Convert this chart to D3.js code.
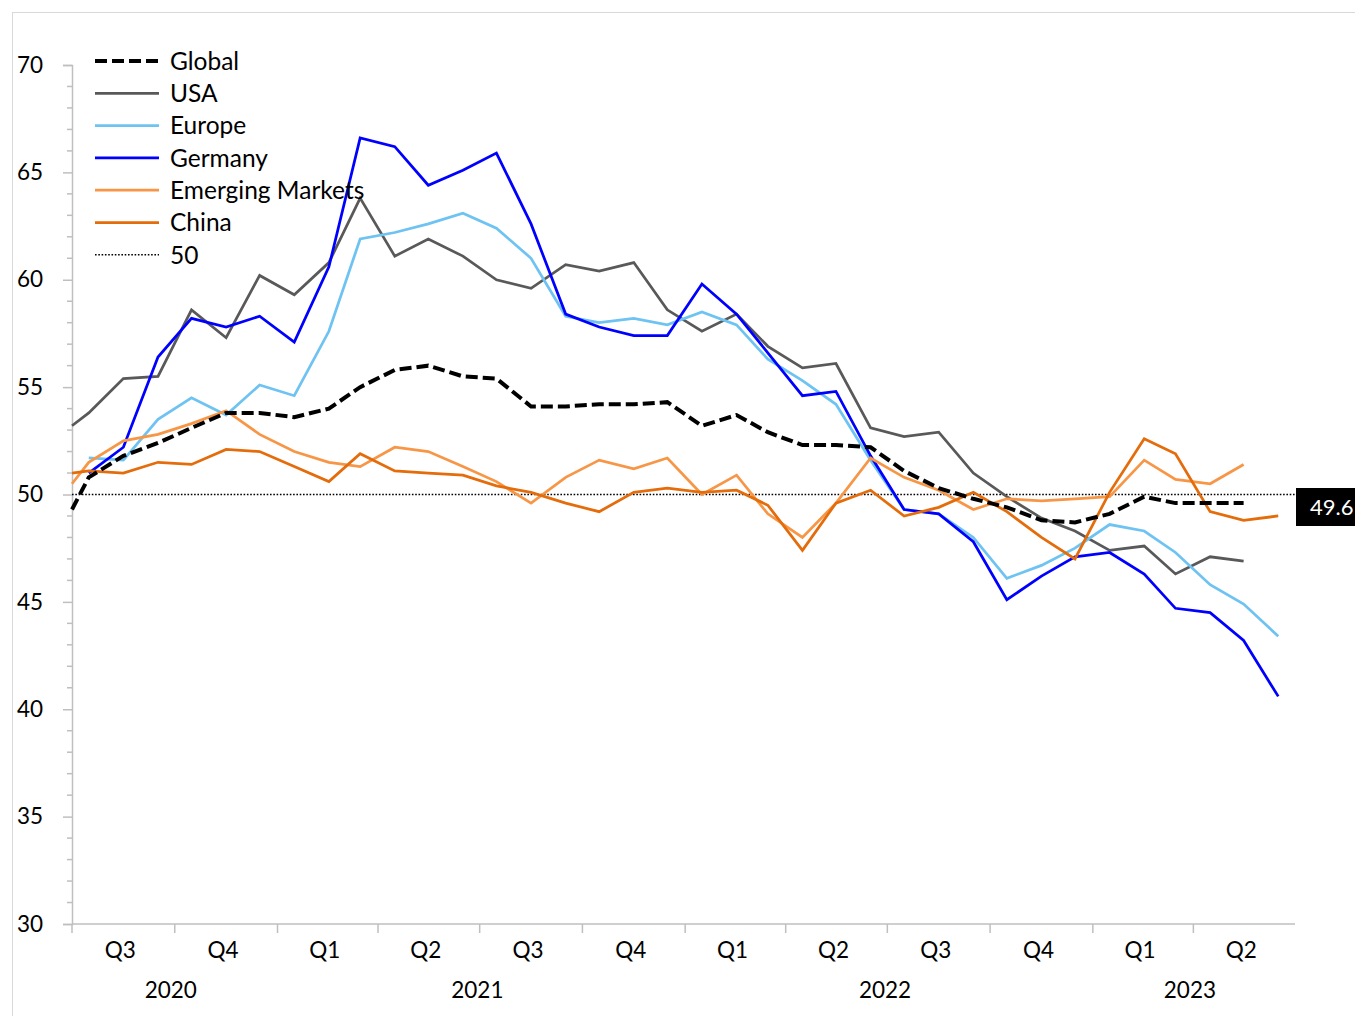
<!DOCTYPE html>
<html>
<head>
<meta charset="utf-8">
<script src="https://cdn.jsdelivr.net/npm/d3@7"></script>
<style>
  body { margin: 0; background: #fff; }
  text { font-family: Lato, "Open Sans", sans-serif; fill: #000; }
</style>
</head>
<body>
<div id="chart"></div>
<script>
// monthly readings (first point is 1 Jul 2020, then mid-month)
var dates = ["2020-07-01",
  "2020-07-16", "2020-08-16", "2020-09-16", "2020-10-16", "2020-11-16", "2020-12-16",
  "2021-01-16", "2021-02-16", "2021-03-16", "2021-04-16", "2021-05-16", "2021-06-16",
  "2021-07-16", "2021-08-16", "2021-09-16", "2021-10-16", "2021-11-16", "2021-12-16",
  "2022-01-16", "2022-02-16", "2022-03-16", "2022-04-16", "2022-05-16", "2022-06-16",
  "2022-07-16", "2022-08-16", "2022-09-16", "2022-10-16", "2022-11-16", "2022-12-16",
  "2023-01-16", "2023-02-16", "2023-03-16", "2023-04-16", "2023-05-16", "2023-06-16"];

var globalPmi = [49.3,
  50.8, 51.8, 52.4, 53.1, 53.8, 53.8,
  53.6, 54.0, 55.0, 55.8, 56.0, 55.5,
  55.4, 54.1, 54.1, 54.2, 54.2, 54.3,
  53.2, 53.7, 52.9, 52.3, 52.3, 52.2,
  51.1, 50.3, 49.8, 49.4, 48.8, 48.7,
  49.1, 49.9, 49.6, 49.6, 49.6, null];

var usa = [53.2,
  53.8, 55.4, 55.5, 58.6, 57.3, 60.2,
  59.3, 60.8, 63.8, 61.1, 61.9, 61.1,
  60.0, 59.6, 60.7, 60.4, 60.8, 58.6,
  57.6, 58.4, 56.9, 55.9, 56.1, 53.1,
  52.7, 52.9, 51.0, 49.9, 48.9, 48.3,
  47.4, 47.6, 46.3, 47.1, 46.9, null];

var europe = [null,
  51.7, 51.6, 53.5, 54.5, 53.7, 55.1,
  54.6, 57.6, 61.9, 62.2, 62.6, 63.1,
  62.4, 61.0, 58.3, 58.0, 58.2, 57.9,
  58.5, 57.9, 56.3, 55.3, 54.2, 51.6,
  49.3, 49.1, 48.0, 46.1, 46.7, 47.5,
  48.6, 48.3, 47.3, 45.8, 44.9, 43.4];

var germany = [null,
  51.0, 52.2, 56.4, 58.2, 57.8, 58.3,
  57.1, 60.6, 66.6, 66.2, 64.4, 65.1,
  65.9, 62.6, 58.4, 57.8, 57.4, 57.4,
  59.8, 58.4, 56.6, 54.6, 54.8, 51.8,
  49.3, 49.1, 47.8, 45.1, 46.2, 47.1,
  47.3, 46.3, 44.7, 44.5, 43.2, 40.6];

var emerging = [50.5,
  51.5, 52.5, 52.8, 53.3, 53.9, 52.8,
  52.0, 51.5, 51.3, 52.2, 52.0, 51.3,
  50.6, 49.6, 50.8, 51.6, 51.2, 51.7,
  50.0, 50.9, 49.1, 48.0, 49.6, 51.7,
  50.8, 50.2, 49.3, 49.8, 49.7, 49.8,
  49.9, 51.6, 50.7, 50.5, 51.4, null];

var china = [51.0,
  51.1, 51.0, 51.5, 51.4, 52.1, 52.0,
  51.3, 50.6, 51.9, 51.1, 51.0, 50.9,
  50.4, 50.1, 49.6, 49.2, 50.1, 50.3,
  50.1, 50.2, 49.5, 47.4, 49.6, 50.2,
  49.0, 49.4, 50.1, 49.2, 48.0, 47.0,
  50.1, 52.6, 51.9, 49.2, 48.8, 49.0];

var quarterStarts = ["2020-07-01", "2020-10-01", "2021-01-01", "2021-04-01", "2021-07-01",
  "2021-10-01", "2022-01-01", "2022-04-01", "2022-07-01", "2022-10-01", "2023-01-01",
  "2023-04-01", "2023-07-01"];
var quarterLabels = ["Q3", "Q4", "Q1", "Q2", "Q3", "Q4", "Q1", "Q2", "Q3", "Q4", "Q1", "Q2"];
var years = ["2020", "2021", "2022", "2023"];
var yearSpans = [[0, 2], [2, 6], [6, 10], [10, 12]];   // quarter index ranges
var yTicks = [30, 35, 40, 45, 50, 55, 60, 65, 70];
var lastLabel = "49.6";

var svgWidth = 1355;
var svgHeight = 1016;

var margin = { top: 65, right: 60, bottom: 92, left: 72 };
var width = svgWidth - margin.left - margin.right;
var height = svgHeight - margin.top - margin.bottom;

var parse = d3.timeParse("%Y-%m-%d");
var dateObjs = dates.map(parse);

var series = [
  { name: "Global", values: globalPmi, color: "#000000", width: 4, dash: "12,5" },
  { name: "USA", values: usa, color: "#595959", width: 2.75, dash: null },
  { name: "Europe", values: europe, color: "#6EC3F2", width: 2.75, dash: null },
  { name: "Germany", values: germany, color: "#0000FF", width: 2.75, dash: null },
  { name: "Emerging Markets", values: emerging, color: "#F79646", width: 2.75, dash: null },
  { name: "China", values: china, color: "#E46C0A", width: 2.75, dash: null }
];

var svg = d3.select("#chart")
  .append("svg")
  .attr("width", svgWidth)
  .attr("height", svgHeight);

// chart area border
svg.append("rect")
  .attr("x", 12.5).attr("y", 12.5)
  .attr("width", 1400).attr("height", 1100)
  .attr("fill", "none")
  .attr("stroke", "#d9d9d9");

var chartGroup = svg.append("g")
  .attr("transform", `translate(${margin.left}, ${margin.top})`);

var xScale = d3.scaleTime()
  .domain([parse(quarterStarts[0]), parse(quarterStarts[quarterStarts.length - 1])])
  .range([0, width]);

var yScale = d3.scaleLinear()
  .domain([30, 70])
  .range([height, 0]);

// y axis with major + minor ticks
var leftAxis = d3.axisLeft(yScale).tickValues(yTicks).tickSize(9).tickPadding(20);
var yAxis = chartGroup.append("g").call(leftAxis);
yAxis.select(".domain").attr("stroke", "#bfbfbf").attr("stroke-width", 1.5);
yAxis.selectAll(".tick line").attr("stroke", "#bfbfbf").attr("stroke-width", 1.5);
yAxis.selectAll(".tick text")
  .style("font-family", "Lato, sans-serif")
  .style("font-size", "22.5px")
  .attr("fill", "#000");

chartGroup.append("g")
  .selectAll("line")
  .data(d3.range(30, 71).filter(d => d % 5 !== 0))
  .enter()
  .append("line")
  .attr("x1", -5).attr("x2", 0)
  .attr("y1", d => yScale(d)).attr("y2", d => yScale(d))
  .attr("stroke", "#bfbfbf").attr("stroke-width", 1.5);

// x axis line and quarter ticks
var qDates = quarterStarts.map(parse);
chartGroup.append("line")
  .attr("x1", 0).attr("x2", width)
  .attr("y1", height).attr("y2", height)
  .attr("stroke", "#bfbfbf").attr("stroke-width", 1.5);

chartGroup.append("g")
  .selectAll("line")
  .data(qDates.slice(0, qDates.length - 1))
  .enter()
  .append("line")
  .attr("x1", d => xScale(d)).attr("x2", d => xScale(d))
  .attr("y1", height).attr("y2", height + 9)
  .attr("stroke", "#bfbfbf").attr("stroke-width", 1.5);

chartGroup.append("g")
  .selectAll("text")
  .data(quarterLabels)
  .enter()
  .append("text")
  .attr("x", (d, i) => (xScale(qDates[i]) + xScale(qDates[i + 1])) / 2 - 3)
  .attr("y", height + 34)
  .attr("text-anchor", "middle")
  .attr("font-size", "22.5px")
  .text(d => d);

chartGroup.append("g")
  .selectAll("text")
  .data(years)
  .enter()
  .append("text")
  .attr("x", (d, i) => (xScale(qDates[yearSpans[i][0]]) + xScale(qDates[yearSpans[i][1]])) / 2 - 4)
  .attr("y", height + 74)
  .attr("text-anchor", "middle")
  .attr("font-size", "22.5px")
  .text(d => d);

// 50 reference line
chartGroup.append("line")
  .attr("x1", 0).attr("x2", width)
  .attr("y1", yScale(50)).attr("y2", yScale(50))
  .attr("stroke", "#000").attr("stroke-width", 1.5)
  .attr("stroke-dasharray", "1.6,1.7");

// series lines
var line = d3.line()
  .defined(d => d.v !== null)
  .x(d => xScale(d.date))
  .y(d => yScale(d.v));

var drawOrder = [1, 2, 3, 4, 5, 0];
drawOrder.forEach(function(i) {
  var s = series[i];
  chartGroup.append("path")
    .datum(s.values.map((v, j) => ({ date: dateObjs[j], v: v })))
    .attr("fill", "none")
    .attr("stroke", s.color)
    .attr("stroke-width", s.width)
    .attr("stroke-linejoin", "miter")
    .attr("stroke-dasharray", s.dash)
    .attr("d", line);
});

// legend
var legendItems = series.map(s => ({ name: s.name, color: s.color, width: s.width, dash: s.dash }));
legendItems.push({ name: "50", color: "#000", width: 1.5, dash: "1.6,1.7" });

var legend = svg.append("g").attr("transform", "translate(95, 61)");
legendItems.forEach(function(d, i) {
  var g = legend.append("g").attr("transform", `translate(0, ${i * 32.3})`);
  g.append("line")
    .attr("x1", 0).attr("x2", 64)
    .attr("y1", 0).attr("y2", 0)
    .attr("stroke", d.color)
    .attr("stroke-width", d.width)
    .attr("stroke-dasharray", d.dash);
  g.append("text")
    .attr("x", 75)
    .attr("y", 0)
    .attr("dy", "0.36em")
    .attr("font-size", "24.5px")
    .text(d.name);
});

// last value tag on the right
var tag = svg.append("g").attr("transform", "translate(1296, 488)");
tag.append("rect")
  .attr("x", 0).attr("y", 0)
  .attr("width", 70).attr("height", 38)
  .attr("fill", "#000");
tag.append("text")
  .attr("x", 14).attr("y", 19)
  .attr("dy", "0.36em")
  .attr("font-size", "22px")
  .style("fill", "#fff")
  .text(lastLabel);
</script>
</body>
</html>
